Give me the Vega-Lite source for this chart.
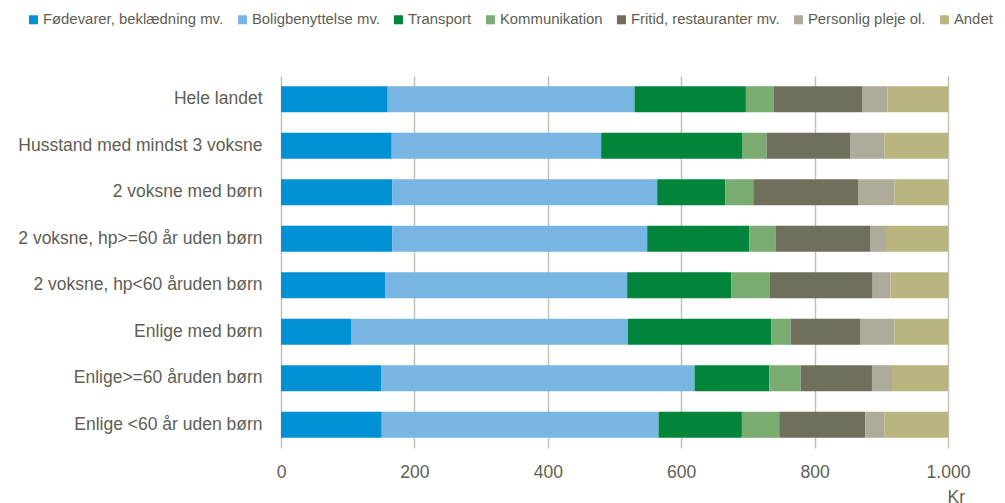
{
  "$schema": "https://vega.github.io/schema/vega-lite/v6.json",
  "autosize": "none",
  "padding": {"left": 281, "top": 76, "right": 57, "bottom": 55},
  "width": 667,
  "height": 372,
  "background": "white",
  "data": {"values": [
    {"g":"Hele landet","c":"Fødevarer, beklædning mv.","o":1,"v":160},
    {"g":"Hele landet","c":"Boligbenyttelse mv.","o":2,"v":370},
    {"g":"Hele landet","c":"Transport","o":3,"v":167},
    {"g":"Hele landet","c":"Kommunikation","o":4,"v":42},
    {"g":"Hele landet","c":"Fritid, restauranter mv.","o":5,"v":133},
    {"g":"Hele landet","c":"Personlig pleje ol.","o":6,"v":37},
    {"g":"Hele landet","c":"Andet","o":7,"v":91},
    {"g":"Husstand med mindst 3 voksne","c":"Fødevarer, beklædning mv.","o":1,"v":166},
    {"g":"Husstand med mindst 3 voksne","c":"Boligbenyttelse mv.","o":2,"v":314},
    {"g":"Husstand med mindst 3 voksne","c":"Transport","o":3,"v":212},
    {"g":"Husstand med mindst 3 voksne","c":"Kommunikation","o":4,"v":36},
    {"g":"Husstand med mindst 3 voksne","c":"Fritid, restauranter mv.","o":5,"v":126},
    {"g":"Husstand med mindst 3 voksne","c":"Personlig pleje ol.","o":6,"v":51},
    {"g":"Husstand med mindst 3 voksne","c":"Andet","o":7,"v":95},
    {"g":"2 voksne med børn","c":"Fødevarer, beklædning mv.","o":1,"v":167},
    {"g":"2 voksne med børn","c":"Boligbenyttelse mv.","o":2,"v":397},
    {"g":"2 voksne med børn","c":"Transport","o":3,"v":102},
    {"g":"2 voksne med børn","c":"Kommunikation","o":4,"v":42},
    {"g":"2 voksne med børn","c":"Fritid, restauranter mv.","o":5,"v":158},
    {"g":"2 voksne med børn","c":"Personlig pleje ol.","o":6,"v":54},
    {"g":"2 voksne med børn","c":"Andet","o":7,"v":80},
    {"g":"2 voksne, hp>=60 år uden børn","c":"Fødevarer, beklædning mv.","o":1,"v":167},
    {"g":"2 voksne, hp>=60 år uden børn","c":"Boligbenyttelse mv.","o":2,"v":382},
    {"g":"2 voksne, hp>=60 år uden børn","c":"Transport","o":3,"v":153},
    {"g":"2 voksne, hp>=60 år uden børn","c":"Kommunikation","o":4,"v":40},
    {"g":"2 voksne, hp>=60 år uden børn","c":"Fritid, restauranter mv.","o":5,"v":142},
    {"g":"2 voksne, hp>=60 år uden børn","c":"Personlig pleje ol.","o":6,"v":23},
    {"g":"2 voksne, hp>=60 år uden børn","c":"Andet","o":7,"v":93},
    {"g":"2 voksne, hp<60 åruden børn","c":"Fødevarer, beklædning mv.","o":1,"v":156},
    {"g":"2 voksne, hp<60 åruden børn","c":"Boligbenyttelse mv.","o":2,"v":363},
    {"g":"2 voksne, hp<60 åruden børn","c":"Transport","o":3,"v":156},
    {"g":"2 voksne, hp<60 åruden børn","c":"Kommunikation","o":4,"v":58},
    {"g":"2 voksne, hp<60 åruden børn","c":"Fritid, restauranter mv.","o":5,"v":154},
    {"g":"2 voksne, hp<60 åruden børn","c":"Personlig pleje ol.","o":6,"v":27},
    {"g":"2 voksne, hp<60 åruden børn","c":"Andet","o":7,"v":86},
    {"g":"Enlige med børn","c":"Fødevarer, beklædning mv.","o":1,"v":105},
    {"g":"Enlige med børn","c":"Boligbenyttelse mv.","o":2,"v":415},
    {"g":"Enlige med børn","c":"Transport","o":3,"v":215},
    {"g":"Enlige med børn","c":"Kommunikation","o":4,"v":29},
    {"g":"Enlige med børn","c":"Fritid, restauranter mv.","o":5,"v":105},
    {"g":"Enlige med børn","c":"Personlig pleje ol.","o":6,"v":51},
    {"g":"Enlige med børn","c":"Andet","o":7,"v":80},
    {"g":"Enlige>=60 åruden børn","c":"Fødevarer, beklædning mv.","o":1,"v":150},
    {"g":"Enlige>=60 åruden børn","c":"Boligbenyttelse mv.","o":2,"v":470},
    {"g":"Enlige>=60 åruden børn","c":"Transport","o":3,"v":112},
    {"g":"Enlige>=60 åruden børn","c":"Kommunikation","o":4,"v":47},
    {"g":"Enlige>=60 åruden børn","c":"Fritid, restauranter mv.","o":5,"v":107},
    {"g":"Enlige>=60 åruden børn","c":"Personlig pleje ol.","o":6,"v":30},
    {"g":"Enlige>=60 åruden børn","c":"Andet","o":7,"v":84},
    {"g":"Enlige <60 år uden børn","c":"Fødevarer, beklædning mv.","o":1,"v":151},
    {"g":"Enlige <60 år uden børn","c":"Boligbenyttelse mv.","o":2,"v":415},
    {"g":"Enlige <60 år uden børn","c":"Transport","o":3,"v":125},
    {"g":"Enlige <60 år uden børn","c":"Kommunikation","o":4,"v":56},
    {"g":"Enlige <60 år uden børn","c":"Fritid, restauranter mv.","o":5,"v":129},
    {"g":"Enlige <60 år uden børn","c":"Personlig pleje ol.","o":6,"v":29},
    {"g":"Enlige <60 år uden børn","c":"Andet","o":7,"v":95}
  ]},
  "mark": {"type": "bar"},
  "encoding": {
    "y": {
      "field": "g", "type": "nominal", "sort": null,
      "scale": {"paddingInner": 0.44, "paddingOuter": 0.22},
      "axis": {"title": null, "domain": false, "ticks": false, "grid": false,
               "labelPadding": 19, "labelFontSize": 17.5, "labelColor": "#5e5e54",
               "labelFont": "Liberation Sans", "labelLimit": 400}
    },
    "x": {
      "field": "v", "type": "quantitative", "aggregate": "sum", "stack": "zero",
      "scale": {"domain": [0, 1000], "nice": false},
      "axis": {"values": [0, 200, 400, 600, 800, 1000], "domain": false, "ticks": false,
               "grid": true, "gridColor": "#c4c1b7", "gridWidth": 1.5, "labelFlush": false,
               "labelExpr": "datum.value == 1000 ? '1.000' : datum.label",
               "labelFontSize": 17.5, "labelColor": "#5e5e54", "labelFont": "Liberation Sans",
               "labelPadding": 15,
               "title": "Kr", "titleFont": "Liberation Sans", "titleFontSize": 17.5,
               "titleFontWeight": "normal", "titleColor": "#5e5e54",
               "titleX": 666, "titleY": 54, "titleAlign": "left", "titleAnchor": null, "titleBaseline": "alphabetic"}
    },
    "color": {
      "field": "c", "type": "nominal",
      "scale": {
        "domain": ["Fødevarer, beklædning mv.", "Boligbenyttelse mv.", "Transport", "Kommunikation", "Fritid, restauranter mv.", "Personlig pleje ol.", "Andet"],
        "range": ["#0091d5", "#77b5e3", "#00853b", "#7aab70", "#6f6f5c", "#aeab9b", "#b8b67e"]
      },
      "legend": {
        "title": null, "orient": "none", "legendX": -255, "legendY": -64,
        "direction": "horizontal", "symbolType": "square", "symbolSize": 81,
        "symbolStrokeWidth": 0, "labelFontSize": 14.9, "labelFont": "Liberation Sans",
        "labelColor": "#5e5e54", "labelOffset": 2, "columnPadding": 11, "gridAlign": "each",
        "labelLimit": 400
      }
    },
    "order": {"field": "o", "type": "quantitative"}
  },
  "config": {"view": {"stroke": null}}
}
